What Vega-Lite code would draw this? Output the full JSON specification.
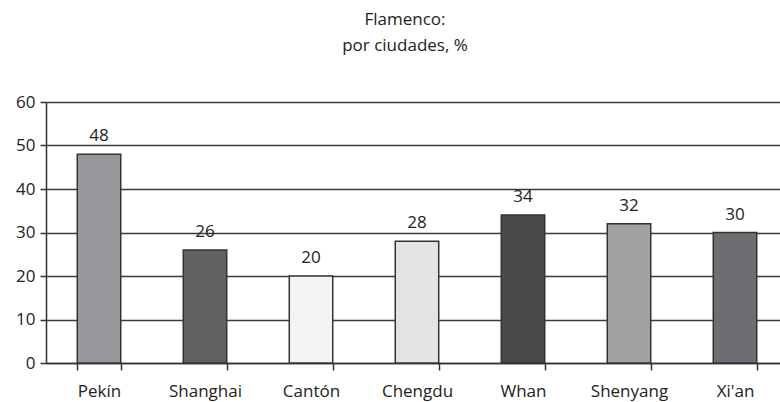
{
  "$schema": "https://vega.github.io/schema/vega-lite/v6.json",
  "autosize": "none",
  "padding": {"left": 46, "top": 102, "right": 0, "bottom": 39},
  "width": 742,
  "height": 261,
  "background": "white",
  "title": {
    "text": ["Flamenco:", "por ciudades, %"],
    "font": "Open Sans",
    "fontSize": 17,
    "fontWeight": "normal",
    "color": "#222222",
    "anchor": "middle",
    "dx": -12,
    "offset": 21,
    "lineHeight": 26,
    "baseline": "bottom"
  },
  "config": {
    "view": {"stroke": null},
    "font": "Open Sans"
  },
  "data": {
    "values": [
      {"city": "Pekín", "value": 48, "color": "#97989c"},
      {"city": "Shanghai", "value": 26, "color": "#616163"},
      {"city": "Cantón", "value": 20, "color": "#f3f3f3"},
      {"city": "Chengdu", "value": 28, "color": "#e2e3e5"},
      {"city": "Whan", "value": 34, "color": "#4a4a4c"},
      {"city": "Shenyang", "value": 32, "color": "#a1a2a4"},
      {"city": "Xi'an", "value": 30, "color": "#6d6e71"}
    ]
  },
  "encoding": {
    "x": {
      "field": "city",
      "type": "nominal",
      "sort": null,
      "scale": {"paddingInner": 0.59, "paddingOuter": 0.295},
      "axis": {
        "title": null,
        "labelAngle": 0,
        "labelFont": "Open Sans",
        "labelFontSize": 17,
        "labelColor": "#222222",
        "labelPadding": 13,
        "tickBand": "extent",
        "tickSize": 7,
        "tickColor": "#333333",
        "tickWidth": 1.5,
        "domainColor": "#333333",
        "domainWidth": 1.5,
        "grid": false
      }
    },
    "y": {
      "field": "value",
      "type": "quantitative",
      "scale": {"domain": [0, 60]},
      "axis": {
        "title": null,
        "values": [0, 10, 20, 30, 40, 50, 60],
        "labelFont": "Open Sans",
        "labelFontSize": 17,
        "labelColor": "#222222",
        "labelPadding": 5,
        "tickSize": 6,
        "tickColor": "#333333",
        "tickWidth": 1.5,
        "domainColor": "#333333",
        "domainWidth": 1.5,
        "grid": true,
        "gridColor": "#3a3a3a",
        "gridWidth": 1.3
      }
    }
  },
  "layer": [
    {
      "mark": {"type": "bar", "stroke": "#333333", "strokeWidth": 1.5},
      "encoding": {
        "color": {"field": "color", "type": "nominal", "scale": null}
      }
    },
    {
      "mark": {
        "type": "text",
        "baseline": "bottom",
        "dy": -9,
        "font": "Open Sans",
        "fontSize": 17,
        "color": "#222222"
      },
      "encoding": {
        "text": {"field": "value", "type": "quantitative"}
      }
    }
  ]
}
